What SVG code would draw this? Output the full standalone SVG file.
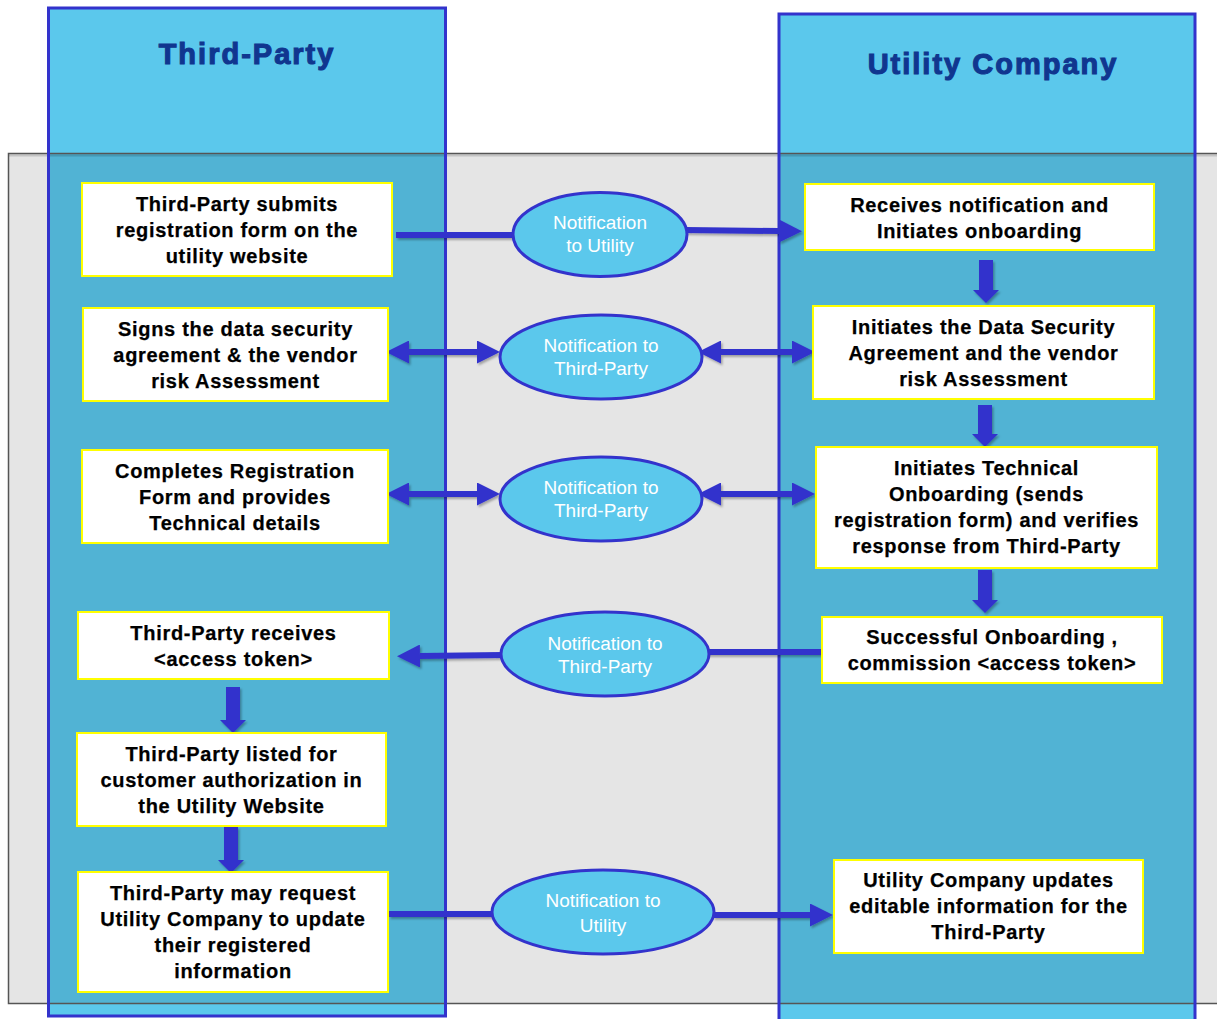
<svg xmlns="http://www.w3.org/2000/svg" width="1217" height="1019" viewBox="0 0 1217 1019">
<defs>
<style>
.lane{fill:#5bc8ec;}
.laneb{fill:none;stroke:#3333cc;stroke-width:3;}
.title{font-family:"Liberation Sans",Arial,sans-serif;font-weight:bold;font-size:29px;fill:#10368f;stroke:#10368f;stroke-width:1.1;letter-spacing:2px;text-anchor:middle;}
.box{fill:#ffffff;stroke:#ffff00;stroke-width:2;}
.bt{font-family:"Liberation Sans",Arial,sans-serif;font-weight:bold;font-size:20px;fill:#000;stroke:#000;stroke-width:0.25;letter-spacing:0.7px;text-anchor:middle;}
.ell{fill:#5bc8ec;stroke:#3333cc;stroke-width:3;}
.et{font-family:"Liberation Sans",Arial,sans-serif;font-size:19px;fill:#ffffff;text-anchor:middle;}
.con{stroke:#3333cc;stroke-width:6;fill:none;}
.blk{fill:#3333cc;}
</style>
<marker id="ah" viewBox="0 0 23 23" refX="0" refY="11.5" markerWidth="23" markerHeight="23" markerUnits="userSpaceOnUse" orient="auto-start-reverse">
<path d="M0,0 L23,11.5 L0,23 Z" fill="#3333cc"/>
</marker>
<filter id="sh" x="-10%" y="-50%" width="120%" height="200%">
<feDropShadow dx="1.5" dy="2" stdDeviation="1.2" flood-color="#000" flood-opacity="0.3"/>
</filter>
</defs>

<g id="lanes-bg">
<rect class="lane" x="48.5" y="8" width="397" height="1008"/>
<rect class="lane" x="779" y="14" width="416" height="1010"/>
</g>
<g id="panel">
<rect x="8.5" y="153.5" width="1220" height="850" fill="#000" fill-opacity="0.1" stroke="#555" stroke-width="1.5"/>
<line x1="9" y1="155.5" x2="1217" y2="155.5" stroke="#000" stroke-opacity="0.15" stroke-width="2"/>
</g>
<g id="lane-third-party">
<rect class="laneb" x="48.5" y="8" width="397" height="1008"/>
<text class="title" x="247" y="64">Third-Party</text>
</g>
<g id="lane-utility">
<rect class="laneb" x="779" y="14" width="416" height="1010"/>
<text class="title" x="993" y="74">Utility Company</text>
</g>

<g id="connectors" filter="url(#sh)">
<line class="con" x1="396" y1="235" x2="514" y2="235"/>
<line class="con" x1="686" y1="230" x2="779" y2="231" marker-end="url(#ah)"/>
<line class="con" x1="409" y1="352" x2="477" y2="352" marker-start="url(#ah)" marker-end="url(#ah)"/>
<line class="con" x1="721" y1="352" x2="792" y2="352" marker-start="url(#ah)" marker-end="url(#ah)"/>
<line class="con" x1="409" y1="494" x2="477" y2="494" marker-start="url(#ah)" marker-end="url(#ah)"/>
<line class="con" x1="721" y1="494" x2="792" y2="494" marker-start="url(#ah)" marker-end="url(#ah)"/>
<line class="con" x1="822" y1="652" x2="706" y2="652"/>
<line class="con" x1="502" y1="655" x2="420" y2="656" marker-end="url(#ah)"/>
<line class="con" x1="389" y1="914" x2="493" y2="914"/>
<line class="con" x1="713" y1="915" x2="810" y2="915" marker-end="url(#ah)"/>
<path class="blk" d="M226,687 H240 V720 H246 L233,733 L220,720 H226 Z"/>
<path class="blk" d="M224,827 H238 V860 H244 L231,873 L218,860 H224 Z"/>
<path class="blk" d="M979,260 H993 V290 H999 L986,303 L973,290 H979 Z"/>
<path class="blk" d="M978,405 H992 V434 H998 L985,447 L972,434 H978 Z"/>
<path class="blk" d="M978,570 H992 V600 H998 L985,613 L972,600 H978 Z"/>
</g>

<g id="n-ell1">
<ellipse class="ell" cx="600" cy="234.5" rx="87" ry="42"/>
<text class="et" x="600" y="229">Notification</text>
<text class="et" x="600" y="252">to Utility</text>
</g>
<g id="n-ell2">
<ellipse class="ell" cx="601" cy="357" rx="101" ry="42"/>
<text class="et" x="601" y="352">Notification to</text>
<text class="et" x="601" y="375">Third-Party</text>
</g>
<g id="n-ell3">
<ellipse class="ell" cx="601" cy="499" rx="101" ry="42"/>
<text class="et" x="601" y="494">Notification to</text>
<text class="et" x="601" y="517">Third-Party</text>
</g>
<g id="n-ell4">
<ellipse class="ell" cx="605" cy="654" rx="104" ry="42"/>
<text class="et" x="605" y="650">Notification to</text>
<text class="et" x="605" y="673">Third-Party</text>
</g>
<g id="n-ell5">
<ellipse class="ell" cx="603" cy="912" rx="111" ry="42"/>
<text class="et" x="603" y="907">Notification to</text>
<text class="et" x="603" y="932">Utility</text>
</g>

<g id="n-tp1">
<rect class="box" x="82" y="183" width="310" height="93"/>
<text class="bt" x="237" y="211">Third-Party submits</text>
<text class="bt" x="237" y="237">registration form on the</text>
<text class="bt" x="237" y="263">utility website</text>
</g>
<g id="n-tp2">
<rect class="box" x="83" y="308" width="305" height="93"/>
<text class="bt" x="235.5" y="336">Signs the data security</text>
<text class="bt" x="235.5" y="362">agreement &amp; the vendor</text>
<text class="bt" x="235.5" y="388">risk Assessment</text>
</g>
<g id="n-tp3">
<rect class="box" x="82" y="450" width="306" height="93"/>
<text class="bt" x="235" y="478">Completes Registration</text>
<text class="bt" x="235" y="504">Form and provides</text>
<text class="bt" x="235" y="530">Technical details</text>
</g>
<g id="n-tp4">
<rect class="box" x="78" y="612" width="311" height="67"/>
<text class="bt" x="233.5" y="640">Third-Party receives</text>
<text class="bt" x="233.5" y="666">&lt;access token&gt;</text>
</g>
<g id="n-tp5">
<rect class="box" x="77" y="733" width="309" height="93"/>
<text class="bt" x="231.5" y="761">Third-Party listed for</text>
<text class="bt" x="231.5" y="787">customer authorization in</text>
<text class="bt" x="231.5" y="813">the Utility Website</text>
</g>
<g id="n-tp6">
<rect class="box" x="78" y="872" width="310" height="120"/>
<text class="bt" x="233" y="900">Third-Party may request</text>
<text class="bt" x="233" y="926">Utility Company to update</text>
<text class="bt" x="233" y="952">their registered</text>
<text class="bt" x="233" y="978">information</text>
</g>

<g id="n-uc1">
<rect class="box" x="805" y="184" width="349" height="66"/>
<text class="bt" x="979.5" y="212">Receives notification and</text>
<text class="bt" x="979.5" y="238">Initiates onboarding</text>
</g>
<g id="n-uc2">
<rect class="box" x="813" y="306" width="341" height="93"/>
<text class="bt" x="983.5" y="334">Initiates the Data Security</text>
<text class="bt" x="983.5" y="360">Agreement and the vendor</text>
<text class="bt" x="983.5" y="386">risk Assessment</text>
</g>
<g id="n-uc3">
<rect class="box" x="816" y="447" width="341" height="121"/>
<text class="bt" x="986.5" y="475">Initiates Technical</text>
<text class="bt" x="986.5" y="501">Onboarding (sends</text>
<text class="bt" x="986.5" y="527">registration form) and verifies</text>
<text class="bt" x="986.5" y="553">response from Third-Party</text>
</g>
<g id="n-uc4">
<rect class="box" x="822" y="617" width="340" height="66"/>
<text class="bt" x="992" y="644">Successful Onboarding ,</text>
<text class="bt" x="992" y="670">commission &lt;access token&gt;</text>
</g>
<g id="n-uc5">
<rect class="box" x="834" y="860" width="309" height="93"/>
<text class="bt" x="988.5" y="887">Utility Company updates</text>
<text class="bt" x="988.5" y="913">editable information for the</text>
<text class="bt" x="988.5" y="939">Third-Party</text>
</g>
</svg>
